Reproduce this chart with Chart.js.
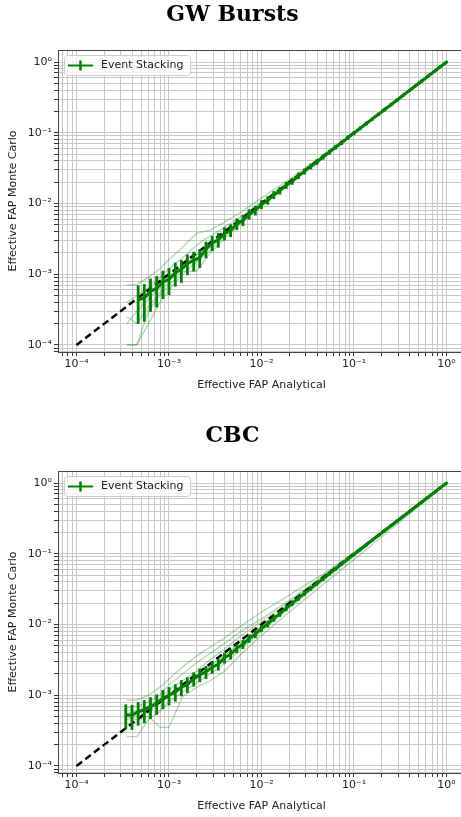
<!DOCTYPE html>
<html>
<head>
<meta charset="utf-8">
<script src="https://cdn.jsdelivr.net/npm/chart.js@4.4.1/dist/chart.umd.min.js"></script>
<style>
body { margin: 0; background: #fff; overflow: hidden; }
#wrap { width: 461px; height: 817px; overflow: hidden; }
canvas { display: block; }
</style>
</head>
<body>
<div id="wrap">
<canvas id="burst" width="472" height="420"></canvas>
<canvas id="cbc" width="472" height="420" style="margin-top:1px"></canvas>
</div>
<script>
// tick labels on both axes
const decades = [1e-4, 1e-3, 1e-2, 1e-1, 1];
const decadeLabels = ['10⁻⁴', '10⁻³', '10⁻²', '10⁻¹', '10⁰'];

// dashed reference line
const diagX = [1e-4, 1];

// GW Bursts: event stacking with error bars
const burstX = [4.64e-4, 5.41e-4, 6.31e-4, 7.36e-4, 8.58e-4, 1.0e-3, 1.17e-3, 1.36e-3, 1.58e-3, 1.85e-3,
  2.15e-3, 2.51e-3, 2.93e-3, 3.41e-3, 3.98e-3, 4.64e-3, 5.41e-3, 6.31e-3, 7.36e-3, 8.58e-3,
  0.01, 0.0117, 0.0136, 0.0158, 0.0185, 0.0215, 0.0251, 0.0293, 0.0341, 0.0398,
  0.0464, 0.0541, 0.0631, 0.0736, 0.0858, 0.1, 0.117, 0.136, 0.158, 0.185,
  0.215, 0.251, 0.293, 0.341, 0.398, 0.464, 0.541, 0.631, 0.736, 0.858, 1.0];
const burstY = [4.4e-4, 4.6e-4, 5.7e-4, 6.3e-4, 7.7e-4, 8.5e-4, 1.05e-3, 1.16e-3, 1.42e-3, 1.57e-3,
  1.72e-3, 2.26e-3, 2.78e-3, 3.07e-3, 3.78e-3, 4.18e-3, 5.14e-3, 5.8e-3, 7.07e-3, 7.98e-3,
  9.7e-3, 0.0111, 0.0132, 0.0152, 0.0181, 0.0206, 0.0246, 0.0284, 0.0334, 0.0386,
  0.0455, 0.053, 0.0625, 0.0721, 0.0849, 0.099, 0.116, 0.135, 0.157, 0.183,
  0.213, 0.249, 0.291, 0.339, 0.396, 0.462, 0.539, 0.630, 0.735, 0.857, 1.0];
const burstErr = [2.35e-4, 2.4e-4, 2.67e-4, 2.8e-4, 3.1e-4, 3.27e-4, 3.6e-4, 3.8e-4, 4.2e-4, 4.4e-4,
  4.6e-4, 5.3e-4, 5.9e-4, 6.2e-4, 6.9e-4, 7.2e-4, 8.0e-4, 8.5e-4, 9.4e-4, 1.0e-3,
  1.1e-3, 1.18e-3, 1.29e-3, 1.38e-3, 1.5e-3, 1.6e-3, 1.76e-3, 1.89e-3, 2.05e-3, 2.2e-3,
  2.39e-3, 2.58e-3, 2.8e-3, 3.0e-3, 3.26e-3, 3.52e-3, 3.8e-3, 4.1e-3, 4.4e-3, 4.8e-3,
  5.2e-3, 5.6e-3, 6.0e-3, 6.5e-3, 7.0e-3, 7.6e-3, 8.2e-3, 8.9e-3, 9.6e-3, 0.0104, 0.0112];

// CBC: event stacking with error bars
const cbcX = [3.41e-4, 3.98e-4, 4.64e-4, 5.41e-4, 6.31e-4, 7.36e-4, 8.58e-4, 1.0e-3, 1.17e-3, 1.36e-3,
  1.58e-3, 1.85e-3, 2.15e-3, 2.51e-3, 2.93e-3, 3.41e-3, 3.98e-3, 4.64e-3, 5.41e-3, 6.31e-3,
  7.36e-3, 8.58e-3, 0.01, 0.0117, 0.0136, 0.0158, 0.0185, 0.0215, 0.0251, 0.0293,
  0.0341, 0.0398, 0.0464, 0.0541, 0.0631, 0.0736, 0.0858, 0.1, 0.117, 0.136,
  0.158, 0.185, 0.215, 0.251, 0.293, 0.341, 0.398, 0.464, 0.541, 0.631, 0.736, 0.858, 1.0];
const cbcY = [5.3e-4, 5.2e-4, 5.8e-4, 6.2e-4, 6.9e-4, 7.7e-4, 9.0e-4, 1.0e-3, 1.11e-3, 1.29e-3,
  1.42e-3, 1.7e-3, 1.94e-3, 2.13e-3, 2.49e-3, 2.73e-3, 3.38e-3, 3.8e-3, 4.6e-3, 5.24e-3,
  6.33e-3, 7.29e-3, 8.8e-3, 0.0102, 0.0122, 0.0142, 0.017, 0.02, 0.0236, 0.0278,
  0.0324, 0.0382, 0.0445, 0.0525, 0.0612, 0.0721, 0.0841, 0.098, 0.115, 0.134,
  0.156, 0.183, 0.213, 0.249, 0.291, 0.339, 0.396, 0.462, 0.539, 0.63, 0.735, 0.857, 1.0];
const cbcErr = [1.88e-4, 1.86e-4, 1.97e-4, 2.03e-4, 2.14e-4, 2.26e-4, 2.45e-4, 2.58e-4, 2.72e-4, 2.93e-4,
  3.08e-4, 3.36e-4, 3.6e-4, 3.77e-4, 4.07e-4, 4.26e-4, 4.74e-4, 5.03e-4, 5.53e-4, 5.9e-4,
  6.5e-4, 6.97e-4, 7.65e-4, 8.24e-4, 9.0e-4, 9.7e-4, 1.06e-3, 1.15e-3, 1.25e-3, 1.36e-3,
  1.47e-3, 1.6e-3, 1.72e-3, 1.87e-3, 2.02e-3, 2.19e-3, 2.37e-3, 2.55e-3, 2.77e-3, 2.99e-3,
  3.22e-3, 3.49e-3, 3.77e-3, 4.07e-3, 4.4e-3, 4.75e-3, 5.13e-3, 5.55e-3, 5.99e-3, 6.48e-3,
  7.0e-3, 7.55e-3, 8.16e-3];

// faint single-run curves
const faintX = [3.5e-4, 4.5e-4, 6e-4, 8e-4, 1e-3, 1.4e-3, 2e-3, 2.8e-3, 4e-3, 6e-3, 0.01, 0.02, 0.05, 0.1, 0.3, 1];
const burstRuns = [
  [7e-4, 7.2e-4, 9e-4, 1.2e-3, 1.6e-3, 2.4e-3, 3.8e-3, 4.2e-3, 5.5e-3, 7.5e-3, 0.012, 0.022, 0.052, 0.1, 0.3, 1],
  [4e-4, 5e-4, 6.5e-4, 9e-4, 1.2e-3, 1.7e-3, 2.6e-3, 3.5e-3, 4.6e-3, 6.5e-3, 0.0105, 0.021, 0.05, 0.1, 0.3, 1],
  [2e-4, 3e-4, 4.5e-4, 6.5e-4, 9e-4, 1.3e-3, 1.9e-3, 2.6e-3, 3.8e-3, 5.8e-3, 9.8e-3, 0.0195, 0.049, 0.099, 0.3, 1],
  [1e-4, 1e-4, 2e-4, 4e-4, 6e-4, 1.0e-3, 1.5e-3, 2.2e-3, 3.4e-3, 5.4e-3, 9.5e-3, 0.019, 0.048, 0.098, 0.3, 1],
  [1e-4, 1e-4, 3e-4, 5e-4, 7e-4, 1.1e-3, 1.1e-3, 2e-3, 3.2e-3, 5.2e-3, 9.2e-3, 0.0185, 0.048, 0.098, 0.3, 1],
  [2.5e-4, 2e-4, 3.5e-4, 5.5e-4, 8e-4, 1.2e-3, 1.7e-3, 2.4e-3, 3.6e-3, 5.6e-3, 9.6e-3, 0.019, 0.049, 0.099, 0.3, 1]
];
const cbcRuns = [
  [8.5e-4, 8.5e-4, 1.0e-3, 1.3e-3, 1.7e-3, 2.5e-3, 3.6e-3, 4.8e-3, 6.5e-3, 9.5e-3, 0.015, 0.026, 0.055, 0.105, 0.3, 1],
  [6.6e-4, 7e-4, 8e-4, 1.0e-3, 1.4e-3, 2.0e-3, 2.9e-3, 3.9e-3, 5.4e-3, 8e-3, 0.012, 0.022, 0.052, 0.1, 0.3, 1],
  [4.5e-4, 5e-4, 6e-4, 8e-4, 1.0e-3, 1.4e-3, 1.9e-3, 2.6e-3, 3.6e-3, 5.6e-3, 9.5e-3, 0.019, 0.049, 0.098, 0.3, 1],
  [2.6e-4, 2.6e-4, 4.5e-4, 6e-4, 8e-4, 1.1e-3, 1.5e-3, 2.0e-3, 2.8e-3, 4.5e-3, 8e-3, 0.017, 0.045, 0.092, 0.29, 1],
  [5e-4, 4.5e-4, 5e-4, 3.5e-4, 3.5e-4, 9.5e-4, 1.3e-3, 1.6e-3, 2.2e-3, 3.8e-3, 7e-3, 0.015, 0.04, 0.082, 0.27, 0.98],
  [5.5e-4, 6e-4, 7e-4, 9e-4, 1.2e-3, 1.6e-3, 2.2e-3, 3.2e-3, 4.5e-3, 7e-3, 0.011, 0.021, 0.05, 0.1, 0.3, 1]
];

const green = '#008000';

// vertical error bars for the dataset that carries yErr
const errorBars = {
  id: 'errorBars',
  afterDatasetDraw(chart, args) {
    const ds = chart.data.datasets[args.index];
    if (!ds.yErr) return;
    const { ctx, chartArea, scales } = chart;
    ctx.save();
    ctx.beginPath();
    ctx.rect(chartArea.left, chartArea.top, chartArea.width, chartArea.height);
    ctx.clip();
    ctx.strokeStyle = green;
    ctx.lineWidth = 2.8;
    ds.data.forEach((p, i) => {
      const px = scales.x.getPixelForValue(p.x);
      const lo = Math.max(p.y - ds.yErr[i], 1e-9);
      ctx.beginPath();
      ctx.moveTo(px, scales.y.getPixelForValue(p.y + ds.yErr[i]) - 1);
      ctx.lineTo(px, scales.y.getPixelForValue(lo) + 1);
      ctx.stroke();
    });
    ctx.restore();
  }
};

// top and right spines plus the boxed legend
const frameAndLegend = {
  id: 'frameAndLegend',
  afterDraw(chart) {
    const { ctx, chartArea: a } = chart;
    ctx.save();
    ctx.strokeStyle = '#444';
    ctx.lineWidth = 1;
    ctx.strokeRect(Math.round(a.left) + 0.5, Math.round(a.top) + 0.5, Math.round(a.width), Math.round(a.height));

    const x = a.left + 6, y = a.top + 5, w = 126, h = 20;
    ctx.fillStyle = 'rgba(255,255,255,0.8)';
    ctx.strokeStyle = '#cccccc';
    ctx.beginPath();
    ctx.roundRect(x + 0.5, y + 0.5, w, h, 3);
    ctx.fill();
    ctx.stroke();
    const cy = y + h / 2 + 0.5;
    ctx.strokeStyle = green;
    ctx.lineWidth = 2;
    ctx.beginPath();
    ctx.moveTo(x + 4, cy);
    ctx.lineTo(x + 29, cy);
    ctx.stroke();
    ctx.lineWidth = 2.5;
    ctx.beginPath();
    ctx.moveTo(x + 16.5, cy - 5);
    ctx.lineTo(x + 16.5, cy + 5);
    ctx.stroke();
    ctx.fillStyle = '#222';
    ctx.font = '11px "DejaVu Sans"';
    ctx.textBaseline = 'middle';
    ctx.fillText('Event Stacking', x + 37, cy);
    ctx.restore();
  }
};

function logAxis(min, max, label, isX) {
  return {
    type: 'logarithmic',
    min: min,
    max: max,
    afterBuildTicks(scale) {
      const t = [];
      for (let e = -5; e <= 0; e++) {
        for (let m = 1; m < 10; m++) {
          const v = +(m * Math.pow(10, e)).toPrecision(3);
          if (v >= min && v <= max) t.push({ value: v });
        }
      }
      scale.ticks = t;
    },
    afterFit(scale) {
      if (isX) scale.height = 68; else scale.width = 58;
    },
    ticks: {
      autoSkip: false,
      maxRotation: 0,
      padding: 2,
      color: '#222',
      font: { family: 'DejaVu Sans', size: 11 },
      callback(v) {
        const k = decades.indexOf(v);
        return k >= 0 ? decadeLabels[k] : '';
      }
    },
    grid: { color: '#c8c8c8', lineWidth: 1, tickLength: 4, tickColor: '#333' },
    border: { color: '#444', width: 1 },
    title: {
      display: true,
      text: label,
      color: '#222',
      font: { family: 'DejaVu Sans', size: 11 },
      padding: isX ? { top: 0, bottom: 28 } : { top: 6.4, bottom: 0 }
    }
  };
}

function makeChart(id, titleText, xs, ys, errs, runs) {
  // index 0 is drawn last, so the stacked curve sits on top of the dashed line
  const datasets = [
    {
      data: xs.map((v, i) => ({ x: v, y: ys[i] })),
      yErr: errs,
      borderColor: green, borderWidth: 3,
      pointRadius: 0, clip: 0
    },
    {
      data: diagX.map(v => ({ x: v, y: v })),
      borderColor: '#000', borderWidth: 2.5, borderDash: [7, 4],
      pointRadius: 0, clip: 0
    }
  ];
  runs.forEach(r => {
    datasets.push({
      data: faintX.map((v, i) => ({ x: v, y: r[i] })),
      borderColor: 'rgba(0,128,0,0.3)', borderWidth: 1.3,
      pointRadius: 0, clip: 0
    });
  });

  new Chart(document.getElementById(id), {
    type: 'line',
    data: { datasets: datasets },
    options: {
      responsive: false,
      animation: false,
      layout: { padding: { left: 0, right: 7, top: 0, bottom: 0 } },
      plugins: {
        legend: { display: false },
        tooltip: { enabled: false },
        title: {
          display: true,
          text: titleText,
          color: '#000',
          font: { family: 'DejaVu Serif', size: 22, weight: 'bold' },
          padding: { top: 2, bottom: 21.6 }
        }
      },
      scales: {
        x: logAxis(6.31e-5, 1.585, 'Effective FAP Analytical', true),
        y: logAxis(7.94e-5, 1.48, 'Effective FAP Monte Carlo', false)
      }
    },
    plugins: [errorBars, frameAndLegend]
  });
}

makeChart('burst', 'GW Bursts', burstX, burstY, burstErr, burstRuns);
makeChart('cbc', 'CBC', cbcX, cbcY, cbcErr, cbcRuns);
</script>
</body>
</html>
